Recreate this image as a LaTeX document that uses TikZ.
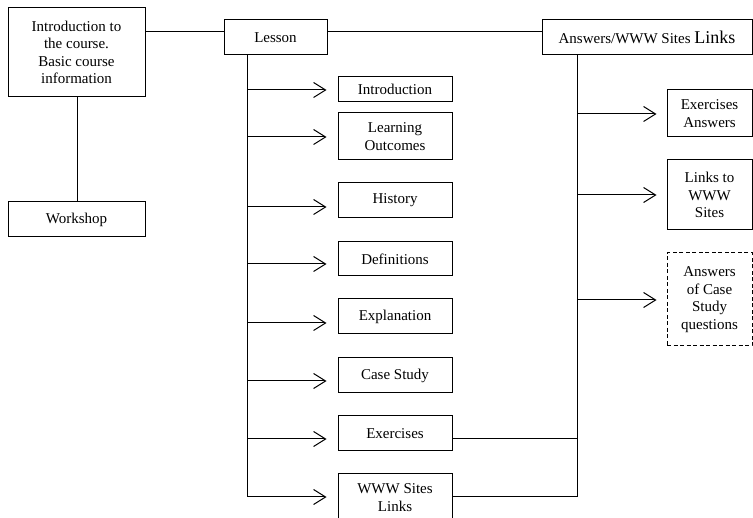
\documentclass[tikz,border=0pt]{standalone}
\usepackage{fontspec}
\setmainfont{Liberation Serif}
\usetikzlibrary{arrows.meta}
\begin{document}
\begin{tikzpicture}[x=1pt,y=-1pt,
  box/.style={draw, line width=1pt, inner sep=0pt, align=center,
    font=\fontsize{15}{17.5}\selectfont},
  dbox/.style={box, dashed, dash pattern=on 4pt off 2.5pt},
  conn/.style={line width=1pt},
  arr/.style={line width=1pt, -{Straight Barb[length=12pt,width=15pt,line width=1pt]}}]
\useasboundingbox (0,0) rectangle (753,518);

% left column
\node[box, minimum width=137pt, minimum height=89pt] (intro) at (76.5,52.5)
  {Introduction to\\the course.\\Basic course\\information};
\node[box, minimum width=137pt, minimum height=35pt] (workshop) at (76.5,219.5) {Workshop};

% top row
\node[box, minimum width=103pt, minimum height=35pt] (lesson) at (275.5,37.5) {Lesson};
\node[box, minimum width=210pt, minimum height=35pt] (answers) at (647,37.5)
  {Answers/WWW Sites {\fontsize{18}{20}\selectfont Links}};

% lesson children
\tikzset{child/.style={box, minimum width=114pt}}
\node[child, minimum height=25pt] (c1) at (395,89.5) {Introduction};
\node[child, minimum height=47pt] (c2) at (395,136.5) {Learning\\Outcomes};
\node[child, minimum height=35pt] (c3) at (395,200.5) {History};
\node[child, minimum height=34pt] (c4) at (395,259) {Definitions};
\node[child, minimum height=35pt] (c5) at (395,316.5) {Explanation};
\node[child, minimum height=35pt] (c6) at (395,375.5) {Case Study};
\node[child, minimum height=35pt] (c7) at (395,433.5) {Exercises};
\node[child, minimum height=47pt] (c8) at (395,497.5) {WWW Sites\\Links};

% answers children
\tikzset{rchild/.style={box, minimum width=85pt}}
\node[rchild, minimum height=47pt] (r1) at (709.5,113.5) {Exercises\\Answers};
\node[rchild, minimum height=70pt] (r2) at (709.5,195) {Links to\\WWW\\Sites};
\node[rchild, dbox, minimum height=93pt] (r3) at (709.5,299.5) {Answers\\of Case\\Study\\questions};

% spines
\coordinate (ls) at (247,55);
\coordinate (le) at (247,497);
\coordinate (rs) at (577,55);
\coordinate (re) at (577,497);
\draw[conn] (ls) -- (le);
\draw[conn] (rs) -- (re);

% top connectors
\draw[conn] (intro.east |- 0,32) -- (lesson.west |- 0,32);
\draw[conn] (lesson.east |- 0,32) -- (answers.west |- 0,32);
\draw[conn] (intro.south -| 77,0) -- (workshop.north -| 77,0);

% lesson arrows
\foreach \n/\yy in {c1/90, c2/137, c3/207, c4/264, c5/323, c6/381, c7/439, c8/497}
  \draw[arr] (247,\yy) -- ([xshift=-11pt]\n.west |- 0,\yy);

% answers arrows
\foreach \n/\yy in {r1/114, r2/195, r3/300}
  \draw[arr] (577,\yy) -- ([xshift=-10pt]\n.west |- 0,\yy);

% exercises/www links to right spine
\draw[conn] (c7.east |- 0,439) -- (577,439);
\draw[conn] (c8.east |- 0,497) -- (re);
\end{tikzpicture}
\end{document}
